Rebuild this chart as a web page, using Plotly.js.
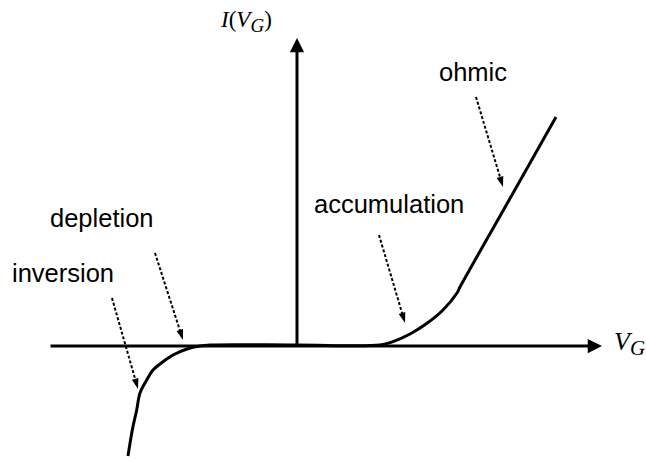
<!DOCTYPE html>
<html>
<head>
<meta charset="utf-8">
<script src="https://cdn.plot.ly/plotly-3.0.1.min.js"></script>
<style>html,body{margin:0;padding:0;background:#fff;}#chart{width:646px;height:462px;}</style>
</head>
<body>
<div id="chart"></div>
<script>
// I(V_G) characteristic, in diagram units (origin at the axes crossing)
const curveV = [-169, -164.5, -160.3, -157, -150.3, -144, -134, -124, -110, -97, -87, 0, 83, 96, 113, 130, 146, 160, 163, 211, 259];
const curveI = [-110, -83, -64, -47, -34, -24, -15.7, -9, -3, 0, 1, 1, 1, 4.3, 12, 22.7, 36, 53, 59, 144, 229];

// coordinate axes (tail -> tip)
const xAxisV = [-248, 305];
const xAxisI = [0, 0];
const yAxisV = [0, 0];
const yAxisI = [0, 308];

// region labels and their dotted pointer arrows
const regionLabels = ['inversion', 'depletion', 'accumulation', 'ohmic'];
const labelV = [-234.5, -195, 91.5, 176];
const labelI = [73, 128, 142, 274];
const pointerStartV = [-185, -142, 82, 179];
const pointerStartI = [48, 93, 111, 249];
const pointerEndV = [-159, -114, 108, 206];
const pointerEndI = [-43, 6, 23, 159];

// axis titles
const xTitle = '<i>V</i><sub><span style="font-size:21px"><i>G</i></span></sub>';
const yTitle = '<i>I</i>(<i>V</i><sub><span style="font-size:19px"><i>G</i></span></sub>)';
const xTitlePos = [315, 3];
const yTitlePos = [-79, 325];

const traces = [];
traces.push({
  x: curveV, y: curveI, mode: 'lines', type: 'scatter',
  line: {color: '#000', width: 3, shape: 'spline', smoothing: 1},
  hoverinfo: 'skip', showlegend: false
});
for (let k = 0; k < regionLabels.length; k++) {
  traces.push({
    x: [pointerStartV[k], pointerEndV[k]],
    y: [pointerStartI[k], pointerEndI[k]],
    mode: 'lines+markers', type: 'scatter',
    line: {color: '#000', width: 2, dash: '3px,2px'},
    marker: {symbol: 'arrow', size: 11, color: '#000', angleref: 'previous'},
    hoverinfo: 'skip', showlegend: false
  });
}

const annotations = [];
// axes with arrowheads
annotations.push({
  x: xAxisV[1], y: xAxisI[1], ax: xAxisV[0], ay: xAxisI[0],
  xref: 'x', yref: 'y', axref: 'x', ayref: 'y', text: '',
  showarrow: true, arrowhead: 2, arrowwidth: 3, arrowsize: 0.95, arrowcolor: '#000'
});
annotations.push({
  x: yAxisV[1], y: yAxisI[1], ax: yAxisV[0], ay: yAxisI[0],
  xref: 'x', yref: 'y', axref: 'x', ayref: 'y', text: '',
  showarrow: true, arrowhead: 2, arrowwidth: 3, arrowsize: 0.95, arrowcolor: '#000'
});
for (let k = 0; k < regionLabels.length; k++) {
  annotations.push({
    x: labelV[k], y: labelI[k], xref: 'x', yref: 'y', text: regionLabels[k],
    showarrow: false, xanchor: 'center', yanchor: 'middle',
    font: {family: 'Liberation Sans, Arial, sans-serif', size: 25.5, color: '#000'}
  });
}
annotations.push({
  x: xTitlePos[0], y: xTitlePos[1], xref: 'x', yref: 'y', text: xTitle,
  showarrow: false, xanchor: 'left', yanchor: 'middle',
  font: {family: 'Liberation Serif, Times New Roman, serif', size: 26, color: '#000'}
});
annotations.push({
  x: yTitlePos[0], y: yTitlePos[1], xref: 'x', yref: 'y', text: yTitle,
  showarrow: false, xanchor: 'left', yanchor: 'middle',
  font: {family: 'Liberation Serif, Times New Roman, serif', size: 23, color: '#000'}
});

const layout = {
  width: 646, height: 462,
  margin: {l: 0, r: 0, t: 0, b: 0},
  paper_bgcolor: '#fff', plot_bgcolor: '#fff',
  xaxis: {range: [-297, 349], visible: false, fixedrange: true},
  yaxis: {range: [-116, 346], visible: false, fixedrange: true},
  annotations: annotations,
  showlegend: false
};

Plotly.newPlot('chart', traces, layout, {displayModeBar: false, staticPlot: true});
</script>
</body>
</html>
